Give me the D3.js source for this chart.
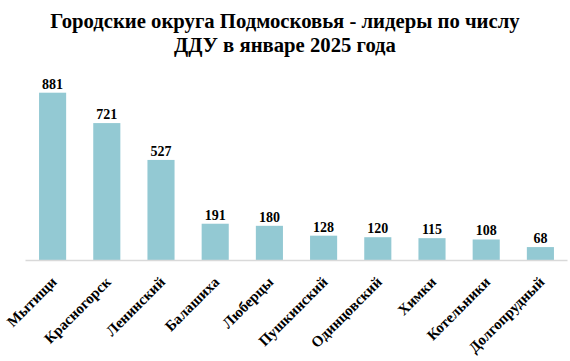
<!DOCTYPE html>
<html><head><meta charset="utf-8">
<script src="https://cdn.jsdelivr.net/npm/d3@7"></script>
<style>body{margin:0;background:#fff}svg{display:block}</style>
</head><body>
<script>
const categories = ["Мытищи","Красногорск","Ленинский","Балашиха","Люберцы","Пушкинский","Одинцовский","Химки","Котельники","Долгопрудный"];
const values = [881,721,527,191,180,128,120,115,108,68];
const titleLines = ["Городские округа Подмосковья - лидеры по числу","ДДУ в январе 2025 года"];

const W = 570, H = 361;
const svg = d3.select("body").append("svg").attr("width", W).attr("height", H);
const font = "'Liberation Serif','Times New Roman',serif";

const x = d3.scaleBand().domain(categories).range([25.5, 567.5]).paddingInner(0.5).paddingOuter(0.25);
const y = d3.scaleLinear().domain([0, 881]).range([260, 92.7]);

svg.append("g").selectAll("text").data(titleLines).join("text")
  .attr("x", 285).attr("y", (d,i) => 28 + i*23.5)
  .attr("text-anchor", "middle").attr("font-family", font).attr("font-weight", "bold")
  .attr("font-size", 20.7).attr("fill", "#000").text(d => d);

svg.append("g").selectAll("rect").data(values).join("rect")
  .attr("x", (d,i) => x(categories[i])).attr("width", x.bandwidth())
  .attr("y", d => y(d)).attr("height", d => y(0) - y(d))
  .attr("fill", "#93c9d3");

svg.append("line").attr("x1", 25.5).attr("x2", 567.5).attr("y1", 260.5).attr("y2", 260.5)
  .attr("stroke", "#d9d9d9").attr("stroke-width", 1.5);

svg.append("g").selectAll("text").data(values).join("text")
  .attr("x", (d,i) => x(categories[i]) + x.bandwidth()/2).attr("y", d => y(d) - 4)
  .attr("text-anchor", "middle").attr("font-family", font).attr("font-weight", "bold")
  .attr("font-size", 14).attr("fill", "#000").text(d => d);

svg.append("g").selectAll("text").data(categories).join("text")
  .attr("transform", d => `translate(${x(d) + x.bandwidth()/2 + 5},${283}) rotate(-45)`)
  .attr("text-anchor", "end").attr("font-family", font).attr("font-weight", "bold")
  .attr("font-size", 15).attr("fill", "#000").text(d => d);
</script>
</body></html>
